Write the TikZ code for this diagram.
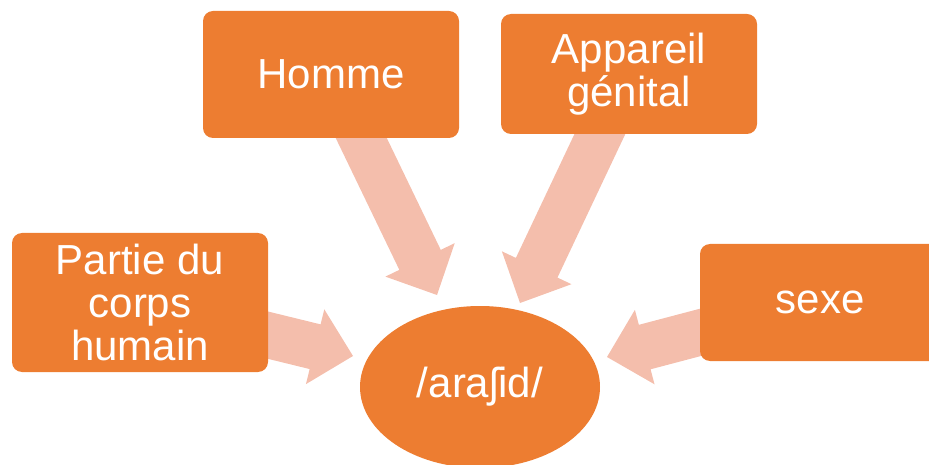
\documentclass[tikz,border=0pt]{standalone}
\usepackage{fontspec}
\setmainfont{Liberation Sans}
\usepackage{xcolor}
\usepackage{tikz}
\usetikzlibrary{arrows.meta, positioning, calc, shapes.geometric}
\definecolor{themeorange}{RGB}{237, 125, 49}
\definecolor{themesalmon}{RGB}{244, 190, 172}

\newcommand{\blockarrow}[2]{%
\coordinate (#2-base) at ($(#2)!39pt!(#1)$);
\fill[themesalmon] ($(#1)!23pt!90:(#2)$) -- ($(#2-base)!23pt!90:(#2)$) -- ($(#2-base)!38.5pt!90:(#2)$)
  -- (#2) -- ($(#2-base)!38.5pt!-90:(#2)$) -- ($(#2-base)!23pt!-90:(#2)$) -- ($(#1)!23pt!-90:(#2)$) -- cycle;}

\begin{document}
\begin{tikzpicture}[x=1pt, y=1pt,
  conceptbox/.style={fill=themeorange, rounded corners=10pt, inner sep=0pt, align=center, text=white, font=\fontsize{42}{43}\selectfont},
  wordellipse/.style={ellipse, fill=themeorange, inner sep=0pt, text=white, font=\fontsize{42}{43}\selectfont}]
\useasboundingbox (0,0) rectangle (929,464);
\clip (0,0) rectangle (929,464);
\coordinate (partie-tail) at (251,133);
\coordinate (partie-tip) at (353,108);
\coordinate (homme-tail) at (354,341);
\coordinate (homme-tip) at (437,169);
\coordinate (appareil-tail) at (607,345);
\coordinate (appareil-tip) at (520,161);
\coordinate (sexe-tail) at (717,136);
\coordinate (sexe-tip) at (607,107);
\blockarrow{partie-tail}{partie-tip}
\blockarrow{homme-tail}{homme-tip}
\blockarrow{appareil-tail}{appareil-tip}
\blockarrow{sexe-tail}{sexe-tip}
\node[conceptbox, minimum width=256pt, minimum height=127pt] (homme) at (331,389.5) {Homme};
\node[conceptbox, minimum width=256pt, minimum height=120pt] (appareil) at (629,390) {Appareil\\génital};
\node[conceptbox, minimum width=256pt, minimum height=139pt] (partie) at (140,161.5) {Partie du\\corps\\humain};
\node[conceptbox, minimum width=240pt, minimum height=117pt] (sexe) at (820,161.5) {sexe};
\node[wordellipse, minimum width=240pt, minimum height=162pt] (arachide) at (480,77) {/araʃid/};
\end{tikzpicture}
\end{document}
